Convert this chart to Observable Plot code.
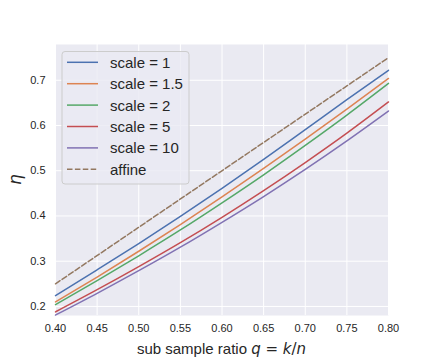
<!DOCTYPE html>
<html>
<head>
<meta charset="utf-8">
<script src="https://cdn.jsdelivr.net/npm/d3@7"></script>
<script src="https://cdn.jsdelivr.net/npm/@observablehq/plot@0.6"></script>
<style>
  body { margin: 0; background: white; }
</style>
</head>
<body>
<div id="chart"></div>
<script>
// ---- data ----
const q = [0.40, 0.45, 0.50, 0.55, 0.60, 0.65, 0.70, 0.75, 0.80];
const scale1   = [0.224, 0.281, 0.339, 0.399, 0.461, 0.525, 0.591, 0.657, 0.722];
const scale1_5 = [0.210, 0.265, 0.322, 0.381, 0.442, 0.505, 0.570, 0.636, 0.704];
const scale2   = [0.204, 0.257, 0.312, 0.369, 0.429, 0.491, 0.556, 0.623, 0.693];
const scale5   = [0.188, 0.237, 0.288, 0.341, 0.397, 0.456, 0.518, 0.583, 0.652];
const scale10  = [0.181, 0.229, 0.279, 0.331, 0.386, 0.443, 0.503, 0.566, 0.632];
const affineQ  = [0.40, 0.80];
const affine   = [0.25, 0.75];

const seriesNames = ["scale = 1", "scale = 1.5", "scale = 2", "scale = 5", "scale = 10"];
const seriesValues = [scale1, scale1_5, scale2, scale5, scale10];
const seriesColors = ["#4C72B0", "#DD8452", "#55A868", "#C44E52", "#8172B3"];
const affineName = "affine";
const affineColor = "#937860";

const xTicks = [0.40, 0.45, 0.50, 0.55, 0.60, 0.65, 0.70, 0.75, 0.80];
const yTicks = [0.2, 0.3, 0.4, 0.5, 0.6, 0.7];

// ---- build tables ----
const lineData = [];
seriesNames.forEach((name, i) => {
  q.forEach((qq, j) => lineData.push({series: name, q: qq, eta: seriesValues[i][j]}));
});
const affineData = affineQ.map((qq, j) => ({series: affineName, q: qq, eta: affine[j]}));

const W = 432, H = 360;
const mL = 55, mR = 44, mT = 44, mB = 45;

const chart = Plot.plot({
  width: W, height: H,
  marginLeft: mL, marginRight: mR, marginTop: mT, marginBottom: mB,
  style: {fontFamily: "'Liberation Sans', Arial, sans-serif", fontSize: "11px", color: "#262626", background: "white"},
  x: {domain: [0.40, 0.80], label: null},
  y: {domain: [0.18, 0.779], label: null},
  color: {domain: [...seriesNames, affineName], range: [...seriesColors, affineColor]},
  marks: [
    Plot.frame({fill: "#EAEAF2", stroke: null}),
    Plot.gridX(xTicks, {stroke: "white", strokeOpacity: 1, strokeWidth: 1}),
    Plot.gridY(yTicks, {stroke: "white", strokeOpacity: 1, strokeWidth: 1}),
    Plot.axisX(xTicks, {tickSize: 0, tickPadding: 9, tickFormat: d3.format(".2f"), label: null, fill: "#262626"}),
    Plot.axisY(yTicks, {tickSize: 0, tickPadding: 10, tickFormat: d3.format(".1f"), label: null, fill: "#262626"}),
    Plot.line(lineData, {x: "q", y: "eta", z: "series", stroke: "series", curve: "monotone-x", strokeWidth: 1.5}),
    Plot.line(affineData, {x: "q", y: "eta", stroke: "series", strokeWidth: 1.5, strokeDasharray: "5.5,2.4"})
  ]
});
document.getElementById("chart").appendChild(chart);

// ---- labels and legend ----
const svg = d3.select(chart);

// y label
svg.append("text")
  .attr("transform", `translate(16,${(mT + H - mB) / 2}) rotate(-90)`)
  .attr("text-anchor", "middle")
  .attr("dominant-baseline", "middle")
  .style("font-family", "'DejaVu Sans', sans-serif")
  .style("font-style", "italic")
  .style("font-size", "17px")
  .attr("fill", "#262626")
  .text("η");

// x label with math italics
const xl = svg.append("text")
  .attr("x", (mL + W - mR) / 2)
  .attr("y", 354)
  .attr("text-anchor", "middle")
  .attr("fill", "#262626")
  .style("font-size", "15px")
  .style("font-family", "'Liberation Sans', Arial, sans-serif");
const parts = [
  ["sub sample ratio ", "normal", "'Liberation Sans', Arial, sans-serif"],
  ["q", "italic", "'DejaVu Sans', sans-serif"],
  [" = ", "normal", "'DejaVu Sans', sans-serif"],
  ["k", "italic", "'DejaVu Sans', sans-serif"],
  ["/", "normal", "'DejaVu Sans', sans-serif"],
  ["n", "italic", "'DejaVu Sans', sans-serif"]
];
parts.forEach(([t, st, ff]) => {
  xl.append("tspan").style("font-style", st).style("font-family", ff).text(t);
});

// legend
const lg = svg.append("g");
lg.append("rect")
  .attr("x", 62).attr("y", 51.5).attr("width", 127).attr("height", 132.5)
  .attr("rx", 3)
  .attr("fill", "#EAEAF2").attr("fill-opacity", 0.8)
  .attr("stroke", "#CCCCCC").attr("stroke-width", 1);
const legendNames = [...seriesNames, affineName];
const legendColors = [...seriesColors, affineColor];
legendNames.forEach((name, i) => {
  const y = 62.3 + i * 21.4;
  lg.append("line")
    .attr("x1", 67).attr("x2", 98).attr("y1", y).attr("y2", y)
    .attr("stroke", legendColors[i]).attr("stroke-width", 1.5)
    .attr("stroke-dasharray", name === affineName ? "5.5,2.4" : null);
  lg.append("text")
    .attr("x", 110).attr("y", y)
    .attr("text-anchor", "start")
    .attr("dominant-baseline", "central")
    .attr("fill", "#262626")
    .style("font-size", "15px")
    .style("font-family", "'Liberation Sans', Arial, sans-serif")
    .text(name);
});
</script>
</body>
</html>
